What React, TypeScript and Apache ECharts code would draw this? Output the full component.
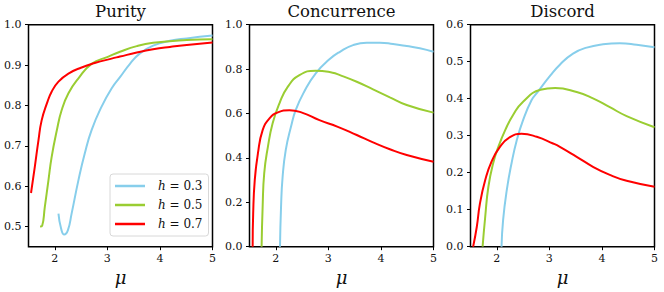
import React, { useEffect, useRef } from "react";
import * as echarts from "echarts";

const hLabels = ["0.3", "0.5", "0.7"];
const colors = ["#87CEEB", "#9ACD32", "#FF0000"];
const titles = ["Purity", "Concurrence", "Discord"];

// Purity
const purMu03 = [2.07, 2.12, 2.18, 2.25, 2.32, 2.45, 2.57, 2.7, 2.89, 3.08, 3.24, 3.43, 3.62, 3.87, 4.19, 4.51, 5.0];
const pur03 = [0.532, 0.495, 0.48, 0.491, 0.532, 0.615, 0.681, 0.739, 0.797, 0.842, 0.87, 0.903, 0.929, 0.948, 0.96, 0.966, 0.973];
const purMu05 = [1.72, 1.76, 1.81, 1.88, 1.94, 2.04, 2.13, 2.26, 2.45, 2.7, 3.02, 3.24, 3.56, 3.87, 4.51, 5.0];
const pur05 = [0.5, 0.502, 0.548, 0.615, 0.672, 0.739, 0.788, 0.83, 0.867, 0.903, 0.921, 0.933, 0.947, 0.955, 0.962, 0.964];
const purMu07 = [1.548, 1.62, 1.69, 1.75, 1.85, 1.94, 2.07, 2.26, 2.51, 2.76, 3.08, 3.24, 3.56, 3.87, 4.19, 4.51, 5.0];
const pur07 = [0.583, 0.648, 0.714, 0.763, 0.805, 0.834, 0.859, 0.879, 0.894, 0.905, 0.916, 0.921, 0.931, 0.939, 0.945, 0.95, 0.956];

// Concurrence
const conMu03 = [2.08, 2.1, 2.13, 2.19, 2.29, 2.38, 2.54, 2.76, 3.02, 3.22, 3.47, 3.73, 3.98, 4.23, 4.49, 4.74, 5.0];
const con03 = [0, 0.18, 0.315, 0.436, 0.541, 0.616, 0.698, 0.781, 0.844, 0.878, 0.908, 0.919, 0.919, 0.913, 0.904, 0.894, 0.878];
const conMu05 = [1.73, 1.75, 1.78, 1.85, 1.94, 2.07, 2.23, 2.45, 2.76, 3.08, 3.22, 3.54, 3.85, 4.17, 4.49, 5.0];
const con05 = [0, 0.18, 0.331, 0.45, 0.556, 0.646, 0.721, 0.773, 0.793, 0.784, 0.773, 0.743, 0.709, 0.673, 0.638, 0.604];
const conMu07 = [1.56, 1.57, 1.6, 1.66, 1.75, 1.88, 2.04, 2.26, 2.51, 2.83, 3.18, 3.54, 3.85, 4.17, 4.49, 5.0];
const con07 = [0, 0.15, 0.3, 0.42, 0.525, 0.578, 0.605, 0.615, 0.603, 0.57, 0.54, 0.503, 0.47, 0.439, 0.413, 0.383];

// Discord
const disMu03 = [2.09, 2.12, 2.19, 2.28, 2.38, 2.5, 2.66, 2.76, 3.02, 3.2, 3.45, 3.71, 4.02, 4.34, 4.66, 5.0];
const dis03 = [0, 0.072, 0.153, 0.225, 0.288, 0.342, 0.396, 0.415, 0.463, 0.492, 0.522, 0.538, 0.547, 0.55, 0.546, 0.539];
const disMu05 = [1.73, 1.78, 1.84, 1.93, 2.03, 2.16, 2.31, 2.5, 2.83, 3.11, 3.52, 3.83, 4.15, 4.47, 5.0];
const dis05 = [0, 0.081, 0.162, 0.225, 0.27, 0.315, 0.356, 0.392, 0.424, 0.429, 0.418, 0.401, 0.377, 0.353, 0.323];
const disMu07 = [1.55, 1.62, 1.68, 1.78, 1.9, 2.06, 2.25, 2.47, 2.76, 3.07, 3.2, 3.52, 3.83, 4.15, 4.47, 5.0];
const dis07 = [0, 0.054, 0.117, 0.18, 0.23, 0.27, 0.296, 0.305, 0.297, 0.279, 0.27, 0.243, 0.216, 0.194, 0.178, 0.162];

const xTicks = [2, 3, 4, 5];
const purYTicks = [0.5, 0.6, 0.7, 0.8, 0.9, 1.0];
const conYTicks = [0, 0.2, 0.4, 0.6, 0.8, 1.0];
const disYTicks = [0, 0.1, 0.2, 0.3, 0.4, 0.5, 0.6];

const panelMus = [
  [purMu03, purMu05, purMu07],
  [conMu03, conMu05, conMu07],
  [disMu03, disMu05, disMu07],
];
const panelVals = [
  [pur03, pur05, pur07],
  [con03, con05, con07],
  [dis03, dis05, dis07],
];
const panelYTicks = [purYTicks, conYTicks, disYTicks];
const panelYRange = [
  [0.45, 1.0],
  [0, 1.0],
  [0, 0.6],
];

const FONT = "DejaVu Serif";
const gridLefts = [28.5, 249.5, 470.5];
const GRID_TOP = 24.7;
const GRID_W = 184;
const GRID_H = 222;

export default function App() {
  const ref = useRef<HTMLDivElement>(null);
  useEffect(() => {
    if (!ref.current) return;
    const chart = echarts.init(ref.current, undefined, { renderer: "svg" });
    const grids = gridLefts.map((l) => ({
      left: l,
      top: GRID_TOP,
      width: GRID_W,
      height: GRID_H,
      show: true,
      borderColor: "#000",
      borderWidth: 1.5,
      backgroundColor: "transparent",
    }));
    const xAxes = gridLefts.map((_, i) => ({
      type: "value",
      gridIndex: i,
      min: 1.5,
      max: 5,
      splitLine: { show: false },
      axisLine: { show: false },
      axisTick: {
        show: true,
        length: 3.5,
        customValues: xTicks,
        lineStyle: { color: "#000", width: 1 },
      },
      axisLabel: {
        customValues: xTicks,
        margin: 6,
        fontFamily: FONT,
        fontSize: 11,
        color: "#111",
        formatter: (v: number) => String(v),
      },
      name: "μ",
      nameLocation: "middle",
      nameGap: 20,
      nameTextStyle: { fontFamily: FONT, fontStyle: "italic", fontSize: 18, color: "#111" },
    }));
    const yAxes = gridLefts.map((_, i) => ({
      type: "value",
      gridIndex: i,
      min: panelYRange[i][0],
      max: panelYRange[i][1],
      splitLine: { show: false },
      axisLine: { show: false },
      axisTick: {
        show: true,
        length: 3.5,
        customValues: panelYTicks[i],
        lineStyle: { color: "#000", width: 1 },
      },
      axisLabel: {
        customValues: panelYTicks[i],
        margin: 7,
        fontFamily: FONT,
        fontSize: 11,
        color: "#111",
        formatter: (v: number) => v.toFixed(1),
      },
    }));
    const series: any[] = [];
    for (let p = 0; p < 3; p++) {
      for (let k = 0; k < 3; k++) {
        const mus = panelMus[p][k];
        const vals = panelVals[p][k];
        series.push({
          type: "line",
          name: hLabels[k],
          xAxisIndex: p,
          yAxisIndex: p,
          data: mus.map((m, j) => [m, vals[j]]),
          showSymbol: false,
          symbol: "none",
          smooth: 0.5,
          lineStyle: { color: colors[k], width: 2 },
          itemStyle: { color: colors[k] },
          clip: true,
        });
      }
    }
    chart.setOption({
      animation: false,
      backgroundColor: "#fff",
      textStyle: { fontFamily: FONT },
      title: titles.map((t, i) => ({
        text: t,
        left: gridLefts[i] + GRID_W / 2,
        top: 3,
        padding: 0,
        textAlign: "center",
        textStyle: { fontFamily: FONT, fontSize: 16.5, fontWeight: "normal", color: "#111" },
      })),
      grid: grids,
      xAxis: xAxes,
      yAxis: yAxes,
      legend: {
        data: hLabels.map((h, k) => ({ name: h, icon: "rect", itemStyle: { color: colors[k] } })),
        orient: "vertical",
        left: 110,
        top: 174,
        padding: [6, 6, 6, 5],
        itemGap: 7,
        itemWidth: 30,
        itemHeight: 2.5,
        backgroundColor: "#fff",
        borderColor: "#d8d8d8",
        borderWidth: 1,
        borderRadius: 3,
        selectedMode: false,
        formatter: (name: string) => `{i|h} = ${name}`,
        textStyle: {
          fontFamily: FONT,
          fontSize: 12,
          color: "#111",
          padding: [0, 0, 0, 8],
          rich: {
            i: { fontFamily: FONT, fontStyle: "italic", fontSize: 12, color: "#111" },
          },
        },
      },
      series,
    });
    return () => chart.dispose();
  }, []);
  return <div ref={ref} style={{ width: 664, height: 292, position: "absolute", left: 0, top: 0 }} />;
}
